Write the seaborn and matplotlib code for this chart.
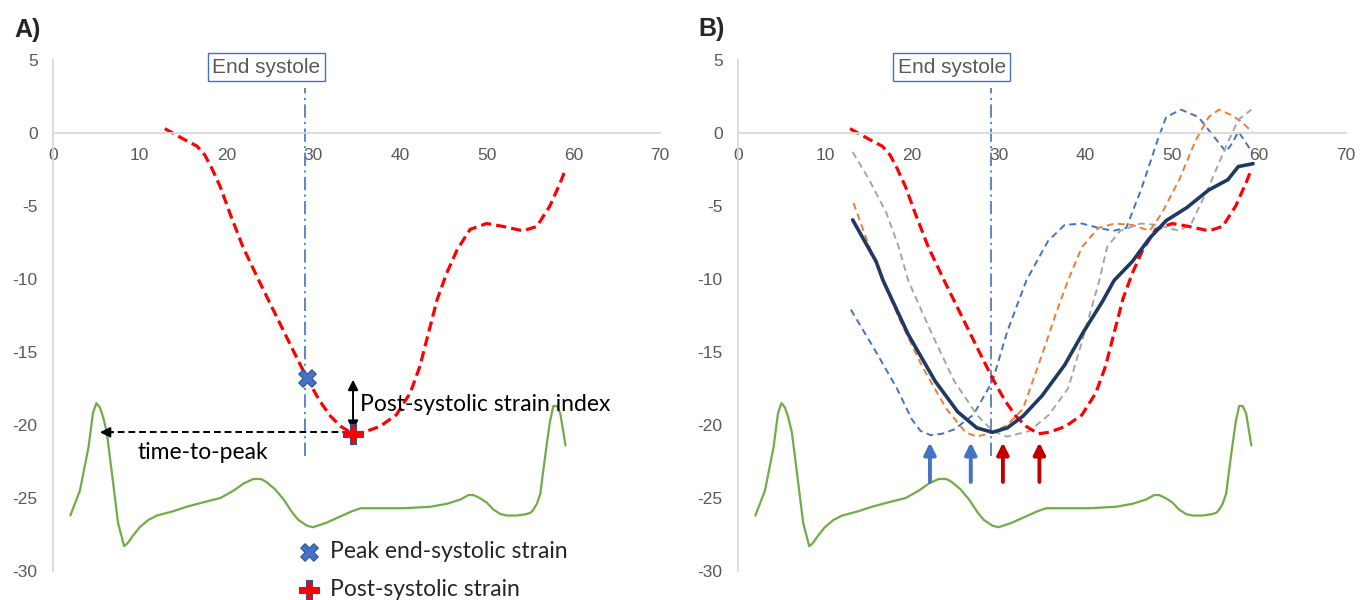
import matplotlib
matplotlib.use("Agg")
import matplotlib.pyplot as plt
import seaborn as sns

# ---------------- data ----------------
x_ticks = [0, 10, 20, 30, 40, 50, 60, 70]
y_ticks = [5, 0, -5, -10, -15, -20, -25, -30]

# ECG trace (shared by both panels)
ecg_t = [2.0, 3.1, 4.1, 4.6, 5.0, 5.4, 5.8, 6.2, 6.9, 7.5, 8.2, 8.6, 9.2, 10.0, 11.0, 12.0, 13.9, 15.4,
         17.3, 19.3, 20.8, 22.0, 23.1, 24.0, 24.6, 25.6, 26.6, 27.6, 28.3, 29.3, 30.0, 31.5, 33.0,
         34.5, 35.5, 37.7, 40.5, 43.5, 45.4, 47.0, 47.9, 48.5, 49.2, 50.0, 50.8, 51.6, 52.3, 53.5,
         54.6, 55.1, 55.4, 55.8, 56.2, 56.5, 56.9, 57.3, 57.7, 58.1, 58.5, 58.8, 59.1]
ecg_v = [-26.2, -24.5, -21.5, -19.2, -18.5, -18.8, -19.5, -20.5, -23.8, -26.7, -28.3, -28.1, -27.6, -27.0, -26.5,
         -26.2, -25.9, -25.6, -25.3, -25.0, -24.5, -24.0, -23.7, -23.7, -23.9, -24.4, -25.1, -26.0, -26.5,
         -26.9, -27.0, -26.7, -26.3, -25.9, -25.7, -25.7, -25.7, -25.6, -25.4, -25.1, -24.8, -24.8, -25.0,
         -25.3, -25.8, -26.1, -26.2, -26.2, -26.1, -26.0, -25.8, -25.4, -24.7, -23.3, -21.5, -19.8, -18.7,
         -18.7, -19.2, -20.3, -21.4]

# Strain curves
red_t = [12.9, 15.0, 16.6, 17.5, 18.3, 19.3, 20.4, 21.9, 23.9, 25.8, 27.7, 29.3, 30.7, 32.0, 33.2, 34.6,
         35.8, 37.7, 39.6, 41.2, 42.3, 43.3, 44.3, 45.4, 46.6, 48.1, 50.0, 51.9, 54.2, 55.8, 57.3, 58.5, 59.1]
red_v = [0.3, -0.4, -0.9, -1.5, -2.4, -3.7, -5.5, -7.8, -10.3, -12.6, -14.9, -16.8, -18.3, -19.4, -20.1, -20.6,
         -20.5, -20.1, -19.3, -17.8, -16.0, -13.7, -11.4, -9.6, -8.0, -6.6, -6.2, -6.4, -6.7, -6.4, -5.0, -3.4, -2.5]

blue_t = [13.0, 15.6, 18.3, 20.0, 21.0, 22.2, 23.5, 24.9, 27.1, 29.3, 31.0, 33.2, 34.4, 35.7, 37.6, 39.6,
          41.5, 43.2, 44.7, 46.4, 48.3, 49.3, 51.0, 53.0, 54.2, 56.2, 57.0, 57.6, 59.3]
blue_v = [-12.1, -14.7, -17.5, -19.6, -20.4, -20.7, -20.6, -20.3, -19.3, -17.0, -13.6, -10.1, -8.8, -7.4, -6.3, -6.2,
          -6.5, -6.7, -6.5, -3.9, -0.5, 1.1, 1.6, 1.1, 0.2, -1.3, -0.6, 0.1, -1.4]

orange_t = [13.3, 15.0, 16.7, 18.7, 21.3, 24.0, 26.2, 27.5, 29.3, 31.0, 32.8, 35.0, 36.7, 38.0, 39.6,
            41.5, 43.4, 45.4, 47.4, 48.8, 50.8, 52.7, 54.2, 55.4, 56.9, 58.1, 59.3]
orange_v = [-4.8, -7.6, -10.1, -12.9, -16.1, -18.9, -20.5, -20.8, -20.5, -20.0, -18.9, -15.2, -12.2, -10.1, -7.8,
            -6.5, -6.2, -6.3, -6.7, -5.5, -3.2, -0.5, 1.1, 1.6, 1.2, 0.7, 0.0]

gray_t = [13.2, 15.1, 17.1, 18.5, 19.6, 22.2, 24.9, 27.5, 29.3, 31.0, 33.6, 35.8, 38.0, 39.4, 40.7, 41.6,
          42.5, 44.0, 46.4, 48.3, 50.8, 52.2, 54.2, 56.2, 57.6, 59.1]
gray_v = [-1.3, -3.2, -5.5, -7.8, -10.1, -13.6, -17.0, -19.3, -20.4, -20.8, -20.4, -19.3, -17.5, -14.7, -12.0, -10.1,
          -7.8, -6.7, -6.2, -6.3, -6.7, -6.2, -3.7, -0.9, 0.9, 1.6]

navy_t = [13.2, 15.9, 16.7, 19.6, 22.7, 25.3, 27.5, 29.3, 31.0, 32.8, 35.0, 37.6, 39.8, 42.0, 43.3,
          45.4, 47.4, 49.3, 51.7, 54.2, 56.4, 57.6, 59.3]
navy_v = [-5.95, -8.8, -10.1, -13.8, -17.0, -19.1, -20.2, -20.5, -20.2, -19.4, -18.0, -15.9, -13.6, -11.5, -10.1,
          -8.8, -7.2, -6.0, -5.1, -3.9, -3.2, -2.3, -2.1]

end_systole_t = 29.1
end_systole_range = (-22.1, 3.1)
peak_es_t, peak_es_v = [29.3], [-16.8]
post_sys_t, post_sys_v = [34.6], [-20.6]
ecg_peak_t = 5.4
pss_index_top = -16.9
arrow_t = [22.1, 26.8, 30.5, 34.7]
arrow_colors = ["#4472C4", "#4472C4", "#C00000", "#C00000"]
arrow_range = (-23.9, -21.2)

# ---------------- style ----------------
sns.set_style("white")
plt.rcParams["font.family"] = ["Liberation Sans", "DejaVu Sans"]
plt.rcParams["axes.unicode_minus"] = False
ANN_FONT = ["Lato", "DejaVu Sans"]
ANN_SIZE = 16.5

fig = plt.figure(figsize=(13.69, 6.0), dpi=100)
axA = fig.add_axes([53 / 1369, 29 / 600, 607 / 1369, 511 / 600])
axB = fig.add_axes([738 / 1369, 29 / 600, 608 / 1369, 511 / 600])

RED_LS = (0, (3.2, 1.6))
THIN_LS = (0, (3.5, 2.3))
ES_LS = (0, (8, 2.6, 1.3, 2.6))


def style_axis(ax):
    ax.set_xlim(0, 70)
    ax.set_ylim(-30, 5)
    ax.set_xticks(x_ticks)
    ax.set_xticklabels([str(v) for v in x_ticks])
    ax.set_yticks(y_ticks)
    ax.set_yticklabels([str(v) for v in y_ticks])
    ax.spines["bottom"].set_position(("data", 0))
    for s in ["top", "right"]:
        ax.spines[s].set_visible(False)
    for s in ["left", "bottom"]:
        ax.spines[s].set_color("#D9D9D9")
        ax.spines[s].set_linewidth(1.3)
    ax.tick_params(axis="x", length=0, labelsize=12.5, labelcolor="#595959", pad=11)
    ax.tick_params(axis="y", length=0, labelsize=12.5, labelcolor="#595959", pad=11)
    ax.set_xlabel("")
    ax.set_ylabel("")
    ax.patch.set_alpha(0)


def common(ax):
    sns.lineplot(x=ecg_t, y=ecg_v, ax=ax, color="#70AD47", linewidth=1.6, sort=False, estimator=None)
    ax.plot([end_systole_t, end_systole_t], list(end_systole_range), color="#4472C4",
            linewidth=1.2, linestyle=ES_LS)
    ax.text(24.6, 4.5, "End systole", ha="center", va="center", fontsize=15, color="#595959",
            bbox=dict(boxstyle="square,pad=0.22", facecolor="white", edgecolor="#4472C4", linewidth=1.0))


# ---------------- Panel A ----------------
common(axA)
sns.lineplot(x=red_t, y=red_v, ax=axA, color="#FF0000", linewidth=2.3, linestyle=RED_LS,
             sort=False, estimator=None)
# time-to-peak arrow
axA.plot([ecg_peak_t + 0.8, post_sys_t[0]], [post_sys_v[0] + 0.1, post_sys_v[0] + 0.1],
         color="black", linewidth=1.4, linestyle=(0, (3.5, 2)))
axA.annotate("", xy=(ecg_peak_t, post_sys_v[0] + 0.1), xytext=(ecg_peak_t + 1.5, post_sys_v[0] + 0.1),
             arrowprops=dict(arrowstyle="-|>,head_width=0.3,head_length=0.6", color="black",
                             lw=1.4, shrinkA=0, shrinkB=0))
# post-systolic strain index arrow
axA.annotate("", xy=(post_sys_t[0], pss_index_top), xytext=(post_sys_t[0], post_sys_v[0] + 0.2),
             arrowprops=dict(arrowstyle="<|-|>,head_width=0.3,head_length=0.6", color="black",
                             lw=1.4, shrinkA=0, shrinkB=0))
axA.text(35.4, -18.6, "Post-systolic strain index", ha="left", va="center",
         fontsize=ANN_SIZE, family=ANN_FONT, color="black")
axA.text(9.7, -21.9, "time-to-peak", ha="left", va="center",
         fontsize=ANN_SIZE, family=ANN_FONT, color="black")

sns.scatterplot(x=peak_es_t, y=peak_es_v, ax=axA, marker="X", s=160, color="#4472C4",
                edgecolor="#2F528F", linewidth=0.8, label="Peak end-systolic strain", zorder=5)
sns.scatterplot(x=post_sys_t, y=post_sys_v, ax=axA, marker="P", s=210, color="#FF0000",
                edgecolor="#2F528F", linewidth=0.8, label="Post-systolic strain", zorder=5)
leg = axA.legend(loc="upper left", bbox_to_anchor=(298 / 1369, 1 - 541 / 600),
                 bbox_transform=fig.transFigure, frameon=False, handlelength=1.0,
                 handletextpad=0.4, borderpad=0, borderaxespad=0, labelspacing=0.75,
                 prop=dict(family=ANN_FONT, size=ANN_SIZE))
style_axis(axA)

# ---------------- Panel B ----------------
common(axB)
sns.lineplot(x=blue_t, y=blue_v, ax=axB, color="#4472C4", linewidth=1.4, linestyle=THIN_LS,
             sort=False, estimator=None)
sns.lineplot(x=orange_t, y=orange_v, ax=axB, color="#ED7D31", linewidth=1.4, linestyle=THIN_LS,
             sort=False, estimator=None)
sns.lineplot(x=gray_t, y=gray_v, ax=axB, color="#A5A5A5", linewidth=1.4, linestyle=THIN_LS,
             sort=False, estimator=None)
sns.lineplot(x=red_t, y=red_v, ax=axB, color="#FF0000", linewidth=2.3, linestyle=RED_LS,
             sort=False, estimator=None)
sns.lineplot(x=navy_t, y=navy_v, ax=axB, color="#203864", linewidth=2.6, sort=False, estimator=None)
for t, c in zip(arrow_t, arrow_colors):
    axB.annotate("", xy=(t, arrow_range[1]), xytext=(t, arrow_range[0]),
                 arrowprops=dict(arrowstyle="-|>,head_width=0.35,head_length=0.7", color=c,
                                 lw=2.8, shrinkA=0, shrinkB=0))
style_axis(axB)

# panel labels
fig.text(14 / 1369, 1 - 30 / 600, "A)", fontsize=18, fontweight="bold", ha="left", va="center")
fig.text(698 / 1369, 1 - 29 / 600, "B)", fontsize=18, fontweight="bold", ha="left", va="center")

fig.savefig("out.png", dpi=100)
